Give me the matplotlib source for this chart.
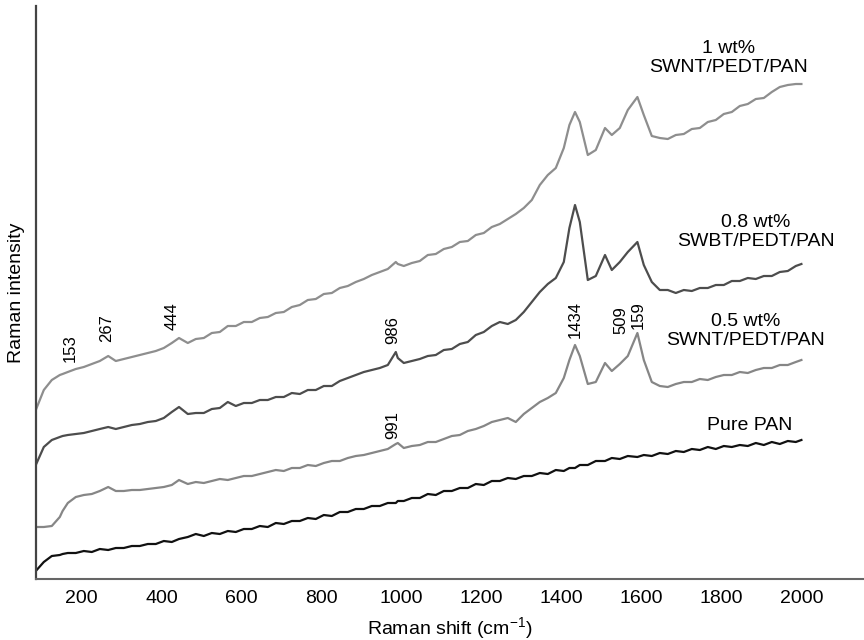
import numpy as np
import matplotlib
matplotlib.use("Agg")
import matplotlib.pyplot as plt

plt.rcParams["font.family"] = ["Liberation Sans", "DejaVu Sans"]
plt.rcParams["mathtext.default"] = "regular"

# Raman shift sampling (cm-1), peak positions included
shift = np.array([
    86, 106, 126, 146, 153, 166, 186, 206, 226, 246,
    267, 286, 306, 326, 346, 366, 386, 406, 426, 444,
    466, 486, 506, 526, 546, 566, 586, 606, 626, 646,
    666, 686, 706, 726, 746, 766, 786, 806, 826, 846,
    866, 886, 906, 926, 946, 966, 986, 991, 1006, 1026,
    1046, 1066, 1086, 1106, 1126, 1146, 1166, 1186, 1206, 1226,
    1246, 1266, 1286, 1306, 1326, 1346, 1366, 1386, 1406, 1420,
    1434, 1446, 1466, 1486, 1509, 1526, 1546, 1566, 1590, 1606,
    1626, 1646, 1666, 1686, 1706, 1726, 1746, 1766, 1786, 1806,
    1826, 1846, 1866, 1886, 1906, 1926, 1946, 1966, 1986, 2000,
])

# intensities (a.u., curves stacked with offsets)
pure_pan = [
    8, 17, 23, 24, 25, 26, 26, 28, 27, 30,
    29, 31, 31, 33, 33, 35, 35, 38, 37, 40,
    42, 45, 43, 46, 45, 48, 47, 50, 50, 53,
    52, 56, 55, 58, 58, 61, 60, 64, 63, 67,
    67, 70, 70, 73, 73, 76, 76, 78, 78, 81,
    81, 85, 84, 88, 88, 91, 91, 95, 94, 98,
    98, 101, 100, 103, 103, 106, 105, 109, 108, 111,
    111, 114, 114, 118, 118, 121, 120, 123, 122, 124,
    123, 126, 125, 128, 127, 130, 129, 132, 130, 133,
    132, 134, 133, 136, 134, 137, 135, 138, 137, 139,
]
wt05 = [
    52, 52, 53, 62, 68, 76, 82, 84, 85, 88,
    92, 88, 88, 89, 89, 90, 91, 92, 94, 99,
    95, 97, 96, 98, 100, 99, 101, 103, 103, 105,
    107, 109, 108, 111, 111, 114, 113, 116, 118, 118,
    121, 123, 124, 126, 128, 130, 135, 136, 131, 133,
    134, 137, 137, 140, 143, 144, 148, 150, 153, 157,
    159, 161, 157, 165, 171, 177, 181, 186, 201, 219,
    234, 223, 195, 197, 216, 208, 215, 223, 246, 219,
    197, 193, 192, 195, 197, 197, 200, 199, 202, 204,
    204, 207, 206, 209, 211, 211, 214, 214, 217, 219,
]
wt08 = [
    114, 132, 139, 142, 143, 144, 145, 146, 148, 150,
    152, 150, 152, 154, 155, 157, 158, 161, 167, 172,
    165, 166, 166, 170, 171, 177, 173, 176, 176, 179,
    179, 182, 182, 186, 185, 189, 189, 193, 193, 198,
    201, 204, 207, 209, 211, 214, 227, 221, 216, 218,
    220, 223, 224, 229, 230, 235, 237, 244, 247, 253,
    257, 255, 259, 267, 277, 287, 295, 301, 317, 351,
    374, 357, 299, 303, 324, 309, 317, 327, 337, 314,
    297, 289, 289, 286, 289, 288, 291, 291, 294, 294,
    298, 298, 301, 300, 303, 303, 307, 308, 313, 315,
]
wt1 = [
    169, 189, 199, 204, 205, 207, 210, 212, 215, 218,
    223, 218, 220, 222, 224, 226, 228, 231, 236, 241,
    236, 240, 241, 246, 247, 253, 253, 257, 257, 261,
    262, 266, 267, 272, 274, 279, 280, 285, 286, 291,
    293, 297, 300, 304, 307, 310, 317, 315, 313, 316,
    318, 324, 325, 330, 332, 337, 338, 344, 346, 352,
    355, 360, 365, 371, 379, 394, 404, 411, 431, 454,
    467, 457, 424, 429, 451, 444, 451, 469, 482, 464,
    443, 441, 440, 444, 445, 450, 451, 457, 459, 465,
    467, 473, 475, 480, 481, 487, 492, 494, 495, 495,
]

# peak labels: text, x, y
peak_text = ["153", "267", "444", "986", "991", "1434", "509", "159"]
peak_x = [171, 264, 426, 979, 979, 1434, 1549, 1592]
peak_y = [231, 251, 263, 249, 154, 259, 259, 264]

curve_names = ["1 wt%\nSWNT/PEDT/PAN", "0.8 wt%\nSWBT/PEDT/PAN",
               "0.5 wt%\nSWNT/PEDT/PAN", "Pure PAN"]
name_x = [1819, 1886, 1861, 1871]
name_y = [521, 347, 248, 153]

fig = plt.figure(figsize=(8.64, 6.4), dpi=100)
ax = fig.add_axes([36 / 864, 61 / 640, 828 / 864, 573 / 640])

ax.plot(shift, wt1, color="#8e8e8e", lw=1.6)
ax.plot(shift, wt08, color="#4d4d4d", lw=1.6)
ax.plot(shift, wt05, color="#868686", lw=1.6)
ax.plot(shift, pure_pan, color="#111111", lw=1.6)

for t, x, y in zip(peak_text, peak_x, peak_y):
    ax.text(x, y, t, rotation=90, ha="center", va="center", fontsize=12)

for t, x, y in zip(curve_names, name_x, name_y):
    ax.text(x, y, t, ha="center", va="center", fontsize=14, linespacing=1.2)

ax.set_xlim(86.5, 2156.5)
ax.set_ylim(0, 573)
ax.set_xticks([200, 400, 600, 800, 1000, 1200, 1400, 1600, 1800, 2000])
ax.set_yticks([])
ax.tick_params(axis="x", length=0, pad=8, labelsize=14)

for s in ["top", "right"]:
    ax.spines[s].set_visible(False)
ax.spines["left"].set_color("#444444")
ax.spines["left"].set_linewidth(1.6)
ax.spines["bottom"].set_color("#666666")
ax.spines["bottom"].set_linewidth(1.5)

ax.set_xlabel("Raman shift (cm$^{-1}$)", fontsize=14, labelpad=6)
ax.set_ylabel("Raman intensity", fontsize=14, labelpad=8)

fig.savefig("out.png", dpi=100)
